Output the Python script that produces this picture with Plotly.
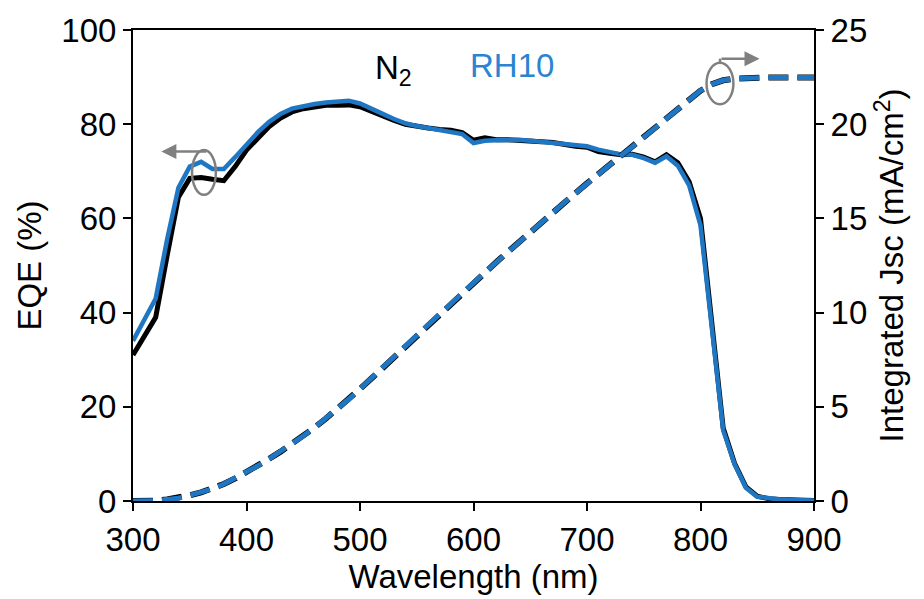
import plotly.graph_objects as go

wavelength = list(range(300, 901, 10))

eqe_n2 = [31, 35, 39, 52, 64.5, 68.5, 68.7, 68.3, 68, 71,
          74.5, 77, 79.5, 81.3, 82.6, 83.3, 83.7, 84, 84, 84.1,
          83.7, 82.7, 81.8, 80.8, 80, 79.5, 79.2, 78.9, 78.7, 78.2,
          76.6, 77.1, 76.7, 76.7, 76.6, 76.6, 76.3, 76.1, 75.6, 75.3,
          75.1, 74.2, 73.8, 73.5, 73.6, 73.0, 72.0, 73.5, 71.8, 67.8,
          60, 37, 15.5, 8, 3, 1, 0.5, 0.3, 0.2, 0.1, 0.1]

eqe_rh10 = [34, 38.5, 43, 55.5, 66.5, 71, 72, 70.5, 70.5, 73,
            75.8, 78.3, 80.5, 82.2, 83.3, 83.9, 84.3, 84.6, 84.8, 85,
            84.4, 83.2, 82.2, 81.1, 80.2, 79.6, 79.2, 78.8, 78.4, 77.9,
            76.0, 76.5, 76.6, 76.7, 76.7, 76.5, 76.3, 76.1, 75.8, 75.6,
            75.3, 74.6, 74.0, 73.6, 73.5, 72.8, 71.8, 73.2, 71.2, 67.0,
            58.5, 36, 15, 7.8, 2.8, 0.9, 0.5, 0.3, 0.2, 0.1, 0.1]

jsc_n2 = [0, 0, 0.02, 0.08, 0.15, 0.3, 0.46, 0.64, 0.9, 1.2,
          1.52, 1.87, 2.24, 2.62, 3.02, 3.45, 3.9, 4.38, 4.88, 5.4,
          5.95, 6.5, 7.07, 7.63, 8.2, 8.78, 9.35, 9.92, 10.48, 11.04,
          11.58, 12.13, 12.67, 13.21, 13.75, 14.28, 14.8, 15.32, 15.84, 16.35,
          16.86, 17.36, 17.85, 18.33, 18.81, 19.3, 19.85, 20.35, 20.85, 21.33,
          21.78, 22.12, 22.33, 22.42, 22.46, 22.48, 22.48, 22.48, 22.48, 22.48, 22.48]

jsc_rh10 = [0, 0, 0.02, 0.08, 0.15, 0.3, 0.46, 0.64, 0.9, 1.2,
            1.52, 1.87, 2.24, 2.62, 3.02, 3.45, 3.9, 4.38, 4.88, 5.4,
            5.95, 6.5, 7.07, 7.63, 8.2, 8.78, 9.35, 9.92, 10.48, 11.04,
            11.58, 12.13, 12.67, 13.21, 13.75, 14.28, 14.8, 15.32, 15.84, 16.35,
            16.86, 17.36, 17.85, 18.33, 18.81, 19.3, 19.85, 20.35, 20.85, 21.33,
            21.78, 22.12, 22.33, 22.42, 22.46, 22.48, 22.48, 22.48, 22.48, 22.48, 22.48]

x_ticks = [300, 400, 500, 600, 700, 800, 900]
y_ticks = [0, 20, 40, 60, 80, 100]
y2_ticks = [0, 5, 10, 15, 20, 25]

BLACK = "#000000"
BLUE = "#1f77c4"
GRAY = "#808080"
FONT = "Liberation Sans, Arial, sans-serif"
FS = 33

fig = go.Figure()
fig.add_trace(go.Scatter(x=wavelength, y=jsc_n2, mode="lines", yaxis="y2",
                         line=dict(color=BLACK, width=6, dash="20px,9px"), showlegend=False))
fig.add_trace(go.Scatter(x=wavelength, y=jsc_rh10, mode="lines", yaxis="y2",
                         line=dict(color=BLUE, width=5, dash="20px,9px"), showlegend=False))
fig.add_trace(go.Scatter(x=wavelength, y=eqe_n2, mode="lines",
                         line=dict(color=BLACK, width=5), showlegend=False))
fig.add_trace(go.Scatter(x=wavelength, y=eqe_rh10, mode="lines",
                         line=dict(color=BLUE, width=4.5), showlegend=False))

axis_common = dict(showline=True, linecolor="black", linewidth=2, ticks="outside",
                   ticklen=8, tickwidth=2, tickcolor="black", showgrid=False, zeroline=False,
                   tickfont=dict(family=FONT, size=FS, color="black"))

fig.update_layout(
    width=924, height=599,
    margin=dict(l=133, r=110, t=26, b=97),
    plot_bgcolor="white", paper_bgcolor="white",
    font=dict(family=FONT, size=FS, color="black"),
    xaxis=dict(range=[300, 900], tickvals=x_ticks, mirror=True,
               title=dict(text="Wavelength (nm)", font=dict(size=FS), standoff=6), **axis_common),
    yaxis=dict(range=[0, 100], tickvals=y_ticks,
               title=dict(text="EQE (%)", font=dict(size=FS), standoff=10), **axis_common),
    yaxis2=dict(range=[0, 25], tickvals=y2_ticks, overlaying="y", side="right",
                title=dict(text="Integrated Jsc (mA/cm<sup>2</sup>)", font=dict(size=FS), standoff=14),
                **axis_common),
    shapes=[
        dict(type="circle", xref="x", yref="y", x0=352, x1=373, y0=65, y1=74.5,
             line=dict(color=GRAY, width=2.5)),
        dict(type="circle", xref="x", yref="y2", x0=805.3, x1=829, y0=21.06, y1=23.26,
             line=dict(color=GRAY, width=2.5)),
        dict(type="line", xref="x", yref="y2", x0=817.2, x1=817.2, y0=23.26, y1=23.48,
             line=dict(color=GRAY, width=2.5)),
    ],
    annotations=[
        dict(x=325, y=74.2, ax=366, ay=74.2, xref="x", yref="y", axref="x", ayref="y",
             showarrow=True, arrowhead=2, arrowsize=1.2, arrowwidth=2.5, arrowcolor=GRAY, text=""),
        dict(x=852, y=23.48, ax=817.2, ay=23.48, xref="x", yref="y2", axref="x", ayref="y2",
             showarrow=True, arrowhead=2, arrowsize=1.2, arrowwidth=2.5, arrowcolor=GRAY, text=""),
        dict(x=0.383, y=0.915, xref="paper", yref="paper", xanchor="center", yanchor="middle",
             text="N<sub>2</sub>", showarrow=False,
             font=dict(family=FONT, size=FS, color="black")),
        dict(x=0.556, y=0.925, xref="paper", yref="paper", xanchor="center", yanchor="middle",
             text="RH10", showarrow=False,
             font=dict(family=FONT, size=FS, color="#2a84d2")),
    ],
)

fig.write_html("out.html")
